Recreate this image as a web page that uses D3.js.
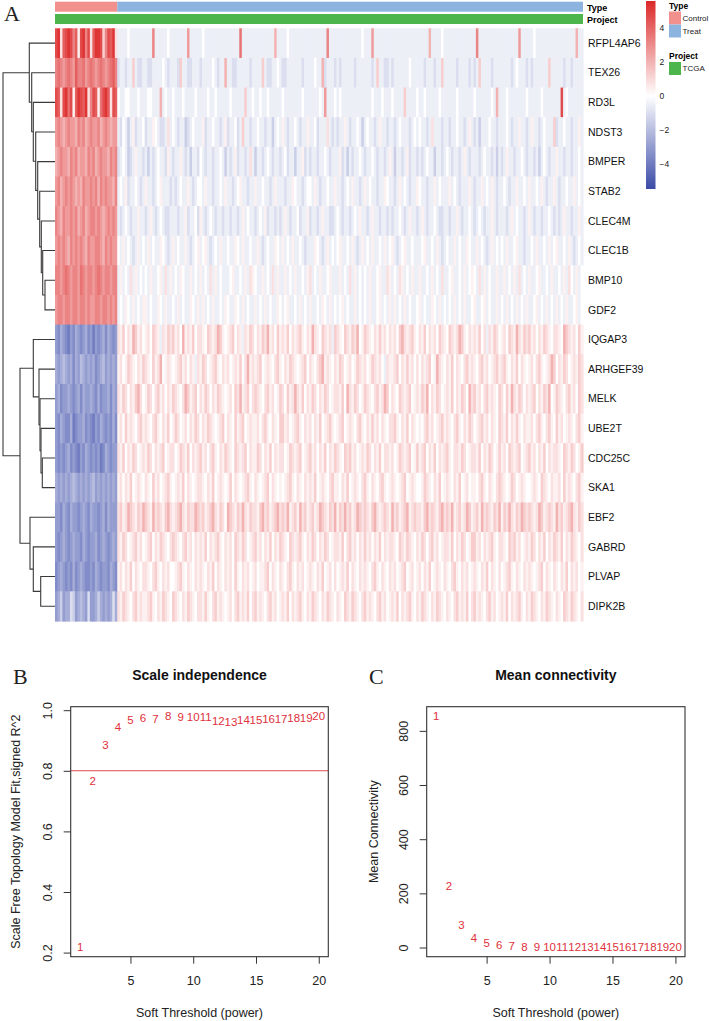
<!DOCTYPE html>
<html lang="en">

<head>
    <meta charset="UTF-8">
    <meta name="viewport" content="width=device-width, initial-scale=1.0">
    <script src="https://cdnjs.cloudflare.com/ajax/libs/d3/7.8.5/d3.min.js"></script>
    <title>Heatmap and soft threshold</title>
    <style>
        body { margin: 0; background: #fff; }
        svg text { font-family: "Liberation Sans", Arial, sans-serif; }
        svg text.serif { font-family: "Liberation Serif", "DejaVu Serif", serif; }
    </style>
</head>

<body>
    <div id="plot"></div>
</body>

<script>
    // ---- data ------------------------------------------------------------
    var genes = ["RFPL4AP6", "TEX26", "RD3L", "NDST3", "BMPER", "STAB2", "CLEC4M", "CLEC1B", "BMP10", "GDF2",
        "IQGAP3", "ARHGEF39", "MELK", "UBE2T", "CDC25C", "SKA1", "EBF2", "GABRD", "PLVAP", "DIPK2B"];

    // one letter per cell, looked up in codeValues (z-score)
    var codeLetters = "abcdefghijklmnopqrstu";
    var codeValues = [-5, -4.5, -4, -3.5, -3, -2.5, -2, -1.5, -1, -0.5, 0, 0.4, 0.8, 1.3, 2, 2.6, 3.2, 3.7, 4.2, 4.7, 5.3];

    // Control samples (left block), one string per gene
    var controlCells = [
        "tumst utqsl tuqtm suutn qtsum",
        "qrqpq rqpsq qrpqr qpqrq pqrsq",
        "tsmtu rtlsu tsumq tslrt usmts",
        "pqpop qppoq pqopq ppqop qpopp",
        "opqpp oqpqo ppoqp qopqp poqpq",
        "pqopq pqpop oqppq pqoqp qppoq",
        "qpoqp pqpqo pqopq qpqpo pqpqp",
        "pqpqp oqpqp qpoqp pqqpo qpqpp",
        "qqpqr qpqqp rqpqq pqrqp qqpqq",
        "pqqpq qpqqp qqpqp pqqpq qpqpq",
        "edfed cedfe defde cedef dfede",
        "fefgf efdfe gfefe fdefg efefe",
        "efdee fedef dfeef edfde efdfe",
        "edfed dfcde efded cedfe dedfd",
        "edede fdedc edfed edecd fedee",
        "fefef efgfe fefef gefef efefe",
        "eedfe dfeed efedf eedef dfeee",
        "edefe defee dfede efdef edefe",
        "defed edfde fedde dfede edfed",
        "efhef fihef gfeie efhfe fefif"
    ];

    // Treat samples (right block), one string per gene
    var treatCells = [
        "jjjjkjjjjjj jjjqjjjjjkj jjjjjjpjjjj jkjjjjjjjjj jjjjjrjjjjj jjjjjjjjojj jjkjjjjjjjj jjjjjjjqjjj jjjjjjjjjjk jjjpjjjjjjj jjjjjjjjjjj jjjjojjjjkj jjjjjjjjjjj jqjjjjjjjjj jjjjjjjpjjj jjkjjjjjjjj jjjjjjjjojj",
        "ijjijjnjiij jiijjjjkjij jjinjjiijjj ijjjjkjijjo jjiijjjjjij jjjnjiijjkj iijjjjjjijj jjkjjoijjji jijjjjjijjj jjjijnjjiij ijjjjjjkjjj jjijjjijjnj jjjjijjjjij ijnjjjjijjj jjjjijkjjji jijjjjjjnjj jjjijjijjjj",
        "kjjkkjjjkjj jkkjjjojkjj kjjjkjjjjkj jjjkjjkjjjj jkjjjjjnjjk jjkjjkjjjjj kjjjjjjjkjj jjjjkjpjjjk jkjjjjjjjjj jjjkjjjkjjj kjjjjnjjjjk jjkjjjjjkjj jjjjkjjjjjj kjjjjjjkjoj jjkjjjjjjjk jjjjjkjjjjj jjtjkjjjjjj",
        "jikjhjlijjk ijjlkjiijmj kjijjhijkjj jlijjkjjijl ijjkijnjjij jkjjijjhjkj ljijjkjijjl jjkijjjmjij ijjljijjkjh jkjjijljjij jijkjjjijkj kjjijmjjjij jijjkjjijlj ijhjjjkjjij jjkjijjljji jljjijkjjjn ijjkjjijjlj",
        "ijkjhijljji jhjijkjjilj ijjljijhjji kjijjijjkjh jijlijjijmj hjjijkjijji jkijjhjjlij ijjijjkjijj jlijhjijjkj ijjkjijjijl jhjjijlijji jijkjjhjjij kjijjijljij jjijkjjijhj ijljjijjkji jjijhjkjijj ljjijjijjkj",
        "jkjlijjkjij ljjijkljjji jijkjjljijk kjljjijjkjl jjijkljjijj ljjkjjijljj jijjlkjjijk kjljijjkjjl jjijkjljjij ljkjjijjlkj jijljkjijjl kjjijjljkjj jljkjijjjlj ijjljkjljij jkjijjljjkj ljjkjljijjl jijjkjjljkj",
        "jijkjijjljj ijljijkjiij jjijjlijjki ljijkjijjij jijjijljkjj ijkjlijjiji jljijjkijjl ijjijljjiij kjijjijkjlj jijljjijjij ijjkjijljji jljijjkjiij jijjljijjkj ijkjijjljij jjijljkjjij ljijjijjkji jijljjijjlj",
        "kjljkjijljk jljkjjlkjij ljkjjljijkl jkljijkjljj kjjlkjljjkj jljijkjjlkj ljkjljjkjij jjlkjijljkj kljjkjljijl jkjljjkjljk ljijkljjkjj jkljjkjljij kjjljkjjlkj jljkjijljkj kjljjkljjij jkjljjkjljk ljjkjljijkj",
        "jljkjmjljkj kjljjkljmjl jkjlkjjljkj ljkjmjljkjj jkljjkjljml kjjljkjmjlj jljkjljjkjl mjkjljjkljj jljkjmjljkj kjljjkljjml jkjmljkjljj ljjkjljkjmj jkljjkjljkl kjmjljkjjlj jljkjljmjkj ljjkljjkjlj jkjljmkjljk",
        "jkjlkjljkjl ljkjjlkjljj kjljkjjlkjl jljkjljjkjl kjjlkjljkjj ljkjljkjjlk jkljjkjljkj ljjkjlkjljk jkljkjjljkj kjljjkljkjl jljkjljkjjk ljkjjlkjljk jkjljkjljjk ljjkljkjjlj kjljkjljkjl jjkljkjljkj ljkjljjkljk",
        "mlnkmlonlmk lmknmljmlnm nlmkolmlnkm mlknmlmonlk lmnkmljmlnm kmlnmolmknl mlnkmlmnlkm lomlknmlmjn mlknmlnmokl nmlkmlnlmkm lmknomlmnlk mlnkmlmknml knmlmonlkml mlnkmjmlnmk lmknmlomlnm nlmkmlnmlkm mlkonmlmknl",
        "lmklnmlkmln mlknlmoklml klmnlmkmljm lnmklmnlkml mklmlnkmolm lmnklmlkmnl kmlnmlklmnk mlkmnolmlkm lnmklmklnml mklnmlmkjml lmnkmlnlmkm kmlmnklomlk mlnkmlkmnlm lkmnlmklmnl mnlkmlnkmlk lmkmnlklmon kmlnmklmlnm",
        "mlnmkmlnomk lnmkmnlmkml nmlkmonlmnk mlnmkmlnmlk lmknmolmnkm nmlkmnlmkln mknlmomlnkm lnmkmlnmklm mlnkomlnmkl nmlkmnlmonk mlknmlmnklm lnmokmlnmkl mlnkmlnmkom nlmkmnlmlkn mknlomlnmkm lmnkmlnmokl nmlkmnlmknm",
        "lmknlmlkmnl mlkmnlkmlnk lnmklmkmlnm kmlnmlklmnk mlknlmnklml lmkmnlkmlkn nlmklmnlkml mkmlnklmnlk lmnklmlkmnl kmlnlmkmlkm mnlkmlnkmlk lkmnlmklmnl mlkmnlkmlnm klmnlmkmlkn mlnkmlnlkml lmkmnlkmnlk nlmklmlkmnl",
        "mlnkmlnmklm lnmkmlmnklm mklnmlnkmlm nlmkmnlkmln mlknmlmnkml lnmkmlnkmlm mklnmlmnklm nlmkmlnkmln mlknmnlmklm lnmkmlnkmml mklnmlmnkln lmnkmlnkmlm nlkmmlnmklm mlnkmlnmkln lmknmlmnklm nlmkmlnkmlm mlknmlnmkln",
        "lmkmlnklmlk mlknlmklmnl klmlnkmlklm mlkmlnklmlk lnkmlklmnlk mlklmnkmlkl klmnlkmlkml mlnklmlkmnl lkmlnklmlkm nlkmlkmnlkl mlklmnklmlk klnmlkmlnkl mlkmlnklmkl lkmnlkmlkmn mlklnmklmlk klmlknmlkml lmknlmlkmnl",
        "mnlmonmlnmo nmlomnmlnom lmnomlnmmon mnlmnomlnmk onmlnmomlnm mlnomnlmnom nmolmnlomnl mnlmonmlnmo lnmomnlmonm nmlnomlmnml omnlmnolmnm mlnomnmlnom nmolmnlmonl mnlomnmlnmo lnmomlnmonm nmlmonlmnml omnlmnomlnm",
        "mlnmklmnlmk lmnkmlnmlkm nmlkmnlmkml mlnkmlmnlkm lmknmlnmklm nlmkmlnkmln mlknmlmnlkm lnmkmlnmklm mlnkmnlmkml nlmkmlnkmlm mlknmlnmlkm lnmkmnlmklm mlnkmlnmkln nlmkmlmnlkm mlknmnlmklm lnmkmlnkmln mlnkmlnmlkm",
        "lmkmlnkmlkm mlkmnlkmlmk klmnlkmlkml mlkmlnkmlkm lmknlkmlmkl mkllmnkmlkm lkmnlkmlmkl mlkmlnklmkm klmlnkmlkml mlkmnlkmlkm lmklmnklmkl mkmlnklmlkm lkmnlkmlmkl mlkmlnkmlkm klmnlkmlkml mlklmnkmlkm lkmlnkmlmkl",
        "mlnmlkmnlml lmnlkmlnmlk nmlkmlnmlkm mlnlkmnlmlk lmkmnlmlnkm nlmlkmnlmkl mlnkmlmnlkm lnmlkmlnmlk mlknmlnmlkm nlmlkmnlmkl mlnkmlmnlkm lnmlkmlnmlk mlkmnlmlnkm nlmlkmnlmkl mlnkmlmnlkm lnmlkmlnmlk mlknmlnmlkm"
    ];

    // dendrogram: leaves are gene names, h = merge height
    var dendroTree = {
        h: 52, children: [
            {
                h: 25.7, children: ["RFPL4AP6", {
                    h: 23.3, children: ["TEX26", {
                        h: 21.7, children: ["RD3L", {
                            h: 19.3, children: ["NDST3", {
                                h: 17.3, children: ["BMPER", {
                                    h: 15.3, children: ["STAB2", {
                                        h: 13.7, children: ["CLEC4M", {
                                            h: 12.3, children: ["CLEC1B", { h: 10, children: ["BMP10", "GDF2"] }]
                                        }]
                                    }]
                                }]
                            }]
                        }]
                    }]
                }]
            },
            {
                h: 35, children: [
                    {
                        h: 21.7, children: ["IQGAP3", {
                            h: 16, children: ["ARHGEF39", {
                                h: 15, children: ["MELK", {
                                    h: 14, children: ["UBE2T", { h: 12.7, children: ["CDC25C", "SKA1"] }]
                                }]
                            }]
                        }]
                    },
                    {
                        h: 25, children: ["EBF2", {
                            h: 21.7, children: ["GABRD", { h: 14.3, children: ["PLVAP", "DIPK2B"] }]
                        }]
                    }
                ]
            }
        ]
    };

    var typeNames = ["Control", "Treat"];
    var typeColors = ["#F2908D", "#8DB3DF"];
    var projectNames = ["TCGA"];
    var projectColors = ["#4CB64C"];
    var legendTicks = [4, 2, 0, -2, -4];
    var colorStops = [-5.5, 0, 5.6];

    // soft threshold scan
    var powers = [1, 2, 3, 4, 5, 6, 7, 8, 9, 10, 11, 12, 13, 14, 15, 16, 17, 18, 19, 20];
    var sftR2 = [0.217, 0.767, 0.884, 0.946, 0.967, 0.975, 0.972, 0.981, 0.977, 0.979,
        0.979, 0.965, 0.961, 0.968, 0.968, 0.970, 0.972, 0.975, 0.975, 0.981];
    var meanK = [855, 228, 83, 34, 16, 8, 5, 3.5, 2.6, 2.0,
        1.6, 1.3, 1.1, 0.9, 0.8, 0.7, 0.6, 0.5, 0.4, 0.3];
    var xTicks = [5, 10, 15, 20];
    var r2Ticks = [0.2, 0.4, 0.6, 0.8, 1.0];
    var kTicks = [0, 200, 400, 600, 800];
    var r2Cut = 0.8;

    // ---- svg -------------------------------------------------------------
    var W = 709, H = 1021;
    var svg = d3.select("#plot").append("svg")
        .attr("width", W)
        .attr("height", H);

    var heatLeft = 55, heatRight = 583, heatTop = 28.3, heatBottom = 621;

    var color = d3.scaleLinear()
        .domain(colorStops)
        .range(["#3B4BA8", "#ffffff", "#DC2828"]);

    var yRow = d3.scaleBand().domain(genes).range([heatTop, heatBottom]);

    var rows = genes.map((g, i) => (controlCells[i] + treatCells[i]).replace(/ /g, ""));
    var nControl = controlCells[0].replace(/ /g, "").length;
    var nCols = rows[0].length;
    var xCol = d3.scaleBand().domain(d3.range(nCols)).range([heatLeft, heatRight]);

    // (1) heatmap cells_______________________________
    var cellG = svg.append("g");
    rows.forEach((s, i) => {
        var xr = d3.scaleBand().domain(d3.range(s.length)).range([heatLeft, heatRight]);
        cellG.append("g")
            .selectAll("rect")
            .data(s.split(""))
            .join("rect")
            .attr("x", (d, j) => xr(j))
            .attr("y", yRow(genes[i]))
            .attr("width", xr.bandwidth() + 0.6)
            .attr("height", yRow.bandwidth() + 0.6)
            .attr("fill", d => color(codeValues[codeLetters.indexOf(d)]));
    });

    // (2) annotation bars_____________________________
    var typeSpans = [[0, nControl], [nControl, nCols]];
    svg.append("g")
        .selectAll("rect")
        .data(typeSpans)
        .join("rect")
        .attr("x", d => xCol(d[0]))
        .attr("y", 1.7)
        .attr("width", d => (d[1] < nCols ? xCol(d[1]) : heatRight) - xCol(d[0]))
        .attr("height", 10)
        .attr("fill", (d, i) => typeColors[i]);
    svg.append("rect")
        .attr("x", heatLeft).attr("y", 14)
        .attr("width", heatRight - heatLeft).attr("height", 10)
        .attr("fill", projectColors[0]);

    svg.append("text").attr("x", 587).attr("y", 10.5)
        .attr("font-size", 9).attr("font-weight", "bold").text("Type");
    svg.append("text").attr("x", 587).attr("y", 22.5)
        .attr("font-size", 9).attr("font-weight", "bold").text("Project");

    // (3) row labels__________________________________
    svg.append("g")
        .selectAll("text")
        .data(genes)
        .join("text")
        .attr("x", 588)
        .attr("y", d => yRow(d) + yRow.bandwidth() / 2)
        .attr("dy", "0.35em")
        .attr("font-size", 10.5)
        .attr("fill", "#111")
        .text(d => d);

    // (4) dendrogram__________________________________
    var xDend = d3.scaleLinear().domain([0, dendroTree.h]).range([heatLeft, 3]);
    var root = d3.hierarchy(dendroTree, d => typeof d === "string" ? null : d.children);
    root.eachAfter(n => {
        if (!n.children) {
            n.py = yRow(n.data) + yRow.bandwidth() / 2;
            n.px = xDend(0);
        } else {
            n.py = d3.mean(n.children, c => c.py);
            n.px = xDend(n.data.h);
        }
    });
    svg.append("g")
        .selectAll("path")
        .data(root.descendants().filter(n => n.children))
        .join("path")
        .attr("d", n => {
            var a = n.children[0], b = n.children[1];
            return `M${a.px},${a.py}H${n.px}V${b.py}H${b.px}`;
        })
        .attr("fill", "none")
        .attr("stroke", "#3a3a3a")
        .attr("stroke-width", 1.1);

    svg.append("text").attr("class", "serif").attr("x", 4).attr("y", 21)
        .attr("font-size", 22).attr("fill", "#222").text("A");

    // (5) colour legend________________________________
    var yLeg = d3.scaleLinear().domain([colorStops[0], colorStops[2]]).range([189, 1]);
    var grad = svg.append("defs").append("linearGradient")
        .attr("id", "heatGrad")
        .attr("x1", 0).attr("y1", 1).attr("x2", 0).attr("y2", 0);
    grad.selectAll("stop")
        .data(colorStops)
        .join("stop")
        .attr("offset", d => (d - colorStops[0]) / (colorStops[2] - colorStops[0]))
        .attr("stop-color", d => color(d));
    svg.append("rect")
        .attr("x", 646).attr("y", 1)
        .attr("width", 9.5).attr("height", 188)
        .attr("fill", "url(#heatGrad)");
    svg.append("g")
        .selectAll("text")
        .data(legendTicks)
        .join("text")
        .attr("x", 659.5)
        .attr("y", d => yLeg(d))
        .attr("dy", "0.35em")
        .attr("font-size", 8.5)
        .attr("fill", "#222")
        .text(d => d < 0 ? "\u2212" + Math.abs(d) : d);

    var legX = 669;
    svg.append("text").attr("x", legX).attr("y", 8.5)
        .attr("font-size", 8.5).attr("font-weight", "bold").text("Type");
    svg.append("g")
        .selectAll("rect")
        .data(typeNames)
        .join("rect")
        .attr("x", legX).attr("y", (d, i) => 11.5 + i * 13)
        .attr("width", 12).attr("height", 13)
        .attr("fill", (d, i) => typeColors[i]);
    svg.append("g")
        .selectAll("text")
        .data(typeNames)
        .join("text")
        .attr("x", legX + 13.5).attr("y", (d, i) => 18 + i * 13)
        .attr("dy", "0.35em")
        .attr("font-size", 8).attr("fill", "#222")
        .text(d => d);
    svg.append("text").attr("x", legX).attr("y", 59)
        .attr("font-size", 8.5).attr("font-weight", "bold").text("Project");
    svg.append("rect").attr("x", legX).attr("y", 62)
        .attr("width", 12).attr("height", 13).attr("fill", projectColors[0]);
    svg.append("text").attr("x", legX + 13.5).attr("y", 68.5).attr("dy", "0.35em")
        .attr("font-size", 8).attr("fill", "#222").text(projectNames[0]);

    // (6) soft threshold panels__________________________
    function pad(ext) {
        var p = (ext[1] - ext[0]) * 0.04;
        return [ext[0] - p, ext[1] + p];
    }

    function drawSoftPanel(o) {
        var g = svg.append("g");
        var x = d3.scaleLinear().domain(pad(d3.extent(powers))).range([o.left, o.right]);
        var y = d3.scaleLinear().domain(pad(d3.extent(o.values))).range([o.bottom, o.top]);

        if (o.cut != null) {
            g.append("line")
                .attr("x1", o.left).attr("x2", o.right)
                .attr("y1", y(o.cut)).attr("y2", y(o.cut))
                .attr("stroke", "#E34A4A").attr("stroke-width", 1.1);
        }

        g.append("rect")
            .attr("x", o.left).attr("y", o.top)
            .attr("width", o.right - o.left).attr("height", o.bottom - o.top)
            .attr("fill", "none").attr("stroke", "#333").attr("stroke-width", 1.1);

        var xa = g.append("g")
            .attr("transform", `translate(0,${o.bottom})`)
            .call(d3.axisBottom(x).tickValues(xTicks).tickSize(7).tickPadding(12));
        var ya = g.append("g")
            .attr("transform", `translate(${o.left},0)`)
            .call(d3.axisLeft(y).tickValues(o.ticks).tickFormat(o.fmt).tickSize(7));
        [xa, ya].forEach(a => {
            a.select(".domain").remove();
            a.attr("font-family", null).attr("font-size", 12.5);
            a.selectAll("line").attr("stroke", "#333");
            a.selectAll("text").attr("fill", "#222");
        });
        ya.selectAll(".tick text")
            .attr("x", 0).attr("dy", null)
            .attr("text-anchor", "middle")
            .attr("dominant-baseline", "central")
            .attr("transform", "translate(-22.5,0) rotate(-90)");

        g.selectAll(".pt")
            .data(powers)
            .join("text")
            .attr("class", "pt")
            .attr("x", d => x(d))
            .attr("y", (d, i) => y(o.values[i]))
            .attr("text-anchor", "middle")
            .attr("dominant-baseline", "central")
            .attr("font-size", 11.5)
            .attr("fill", "#E0303A")
            .text(d => d);

        var cx = (o.left + o.right) / 2;
        g.append("text").attr("x", cx).attr("y", 680)
            .attr("text-anchor", "middle").attr("font-size", 14).attr("font-weight", "bold")
            .attr("fill", "#111").text(o.title);
        g.append("text").attr("x", cx).attr("y", 1017)
            .attr("text-anchor", "middle").attr("font-size", 12.5)
            .attr("fill", "#222").text("Soft Threshold (power)");
        var ly = (o.top + o.bottom) / 2;
        g.append("text")
            .attr("transform", `translate(${o.ylabX},${ly}) rotate(-90)`)
            .attr("text-anchor", "middle").attr("dominant-baseline", "central")
            .attr("font-size", 12.5).attr("fill", "#222").text(o.ylab);
        g.append("text").attr("class", "serif").attr("x", o.letterX).attr("y", 684)
            .attr("font-size", 22).attr("fill", "#222").text(o.letter);
    }

    drawSoftPanel({
        left: 70.7, right: 328.3, top: 706.7, bottom: 956.7,
        values: sftR2, ticks: r2Ticks, fmt: d3.format(".1f"), cut: r2Cut,
        title: "Scale independence", ylab: "Scale Free Topology Model Fit,signed R^2",
        ylabX: 15.5, letter: "B", letterX: 13
    });
    drawSoftPanel({
        left: 426.7, right: 685, top: 706.7, bottom: 956.7,
        values: meanK, ticks: kTicks, fmt: d3.format("d"), cut: null,
        title: "Mean connectivity", ylab: "Mean Connectivity",
        ylabX: 373.5, letter: "C", letterX: 369
    });

</script>

</html>
